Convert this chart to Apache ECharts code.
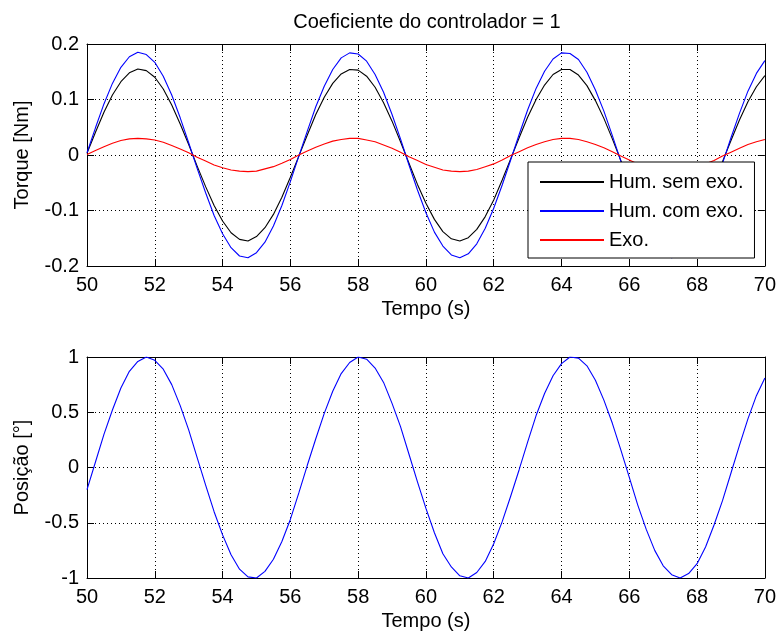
<!DOCTYPE html>
<html>
<head>
<meta charset="utf-8">
<script src="https://cdn.jsdelivr.net/npm/echarts@6/dist/echarts.min.js"></script>
<style>
html,body{margin:0;padding:0;background:#fff;}
#chart{width:779px;height:633px;}
</style>
</head>
<body>
<div id="chart"></div>
<script>
var timeS = [50,50.25,50.5,50.75,51,51.25,51.5,51.75,52,52.25,52.5,52.75,53,53.25,53.5,53.75,54,54.25,54.5,54.75,
  55,55.25,55.5,55.75,56,56.25,56.5,56.75,57,57.25,57.5,57.75,58,58.25,58.5,58.75,59,59.25,59.5,59.75,
  60,60.25,60.5,60.75,61,61.25,61.5,61.75,62,62.25,62.5,62.75,63,63.25,63.5,63.75,64,64.25,64.5,64.75,
  65,65.25,65.5,65.75,66,66.25,66.5,66.75,67,67.25,67.5,67.75,68,68.25,68.5,68.75,69,69.25,69.5,69.75,70];

var humSemExo = [0.003,0.041,0.077,0.108,0.132,0.148,0.155,0.152,0.140,0.119,0.090,0.056,0.019,-0.020,-0.057,-0.091,-0.119,-0.140,-0.152,-0.155,
  -0.147,-0.131,-0.107,-0.076,-0.040,-0.002,0.036,0.073,0.104,0.129,0.146,0.154,0.153,0.142,0.122,0.094,0.061,0.024,-0.015,-0.053,
  -0.087,-0.116,-0.138,-0.151,-0.155,-0.149,-0.134,-0.111,-0.081,-0.045,-0.007,0.031,0.068,0.100,0.126,0.145,0.154,0.154,0.144,0.125,
  0.098,0.066,0.029,-0.010,-0.048,-0.083,-0.113,-0.135,-0.150,-0.155,-0.150,-0.137,-0.114,-0.085,-0.050,-0.012,0.026,0.063,0.096,0.123,0.143];

var humComExo = [0.004,0.049,0.092,0.129,0.158,0.177,0.185,0.181,0.167,0.142,0.108,0.067,0.022,-0.024,-0.068,-0.109,-0.142,-0.167,-0.182,-0.185,
  -0.176,-0.157,-0.128,-0.091,-0.048,-0.002,0.043,0.087,0.124,0.154,0.175,0.184,0.182,0.169,0.145,0.113,0.073,0.029,-0.018,-0.063,
  -0.104,-0.139,-0.164,-0.180,-0.185,-0.178,-0.160,-0.132,-0.096,-0.054,-0.009,0.037,0.081,0.120,0.151,0.173,0.184,0.183,0.172,0.149,
  0.117,0.079,0.035,-0.011,-0.057,-0.098,-0.134,-0.161,-0.179,-0.185,-0.180,-0.163,-0.137,-0.101,-0.060,-0.015,0.031,0.075,0.115,0.147,0.170];

var exo = [0.001,0.008,0.015,0.021,0.026,0.029,0.030,0.029,0.027,0.023,0.017,0.011,0.004,-0.004,-0.011,-0.018,-0.023,-0.027,-0.029,-0.030,
  -0.029,-0.025,-0.021,-0.015,-0.008,0.000,0.007,0.014,0.020,0.025,0.028,0.030,0.030,0.027,0.024,0.018,0.012,0.005,-0.003,-0.010,
  -0.017,-0.022,-0.027,-0.029,-0.030,-0.029,-0.026,-0.021,-0.016,-0.009,-0.001,0.006,0.013,0.019,0.024,0.028,0.030,0.030,0.028,0.024,
  0.019,0.013,0.006,-0.002,-0.009,-0.016,-0.022,-0.026,-0.029,-0.030,-0.029,-0.026,-0.022,-0.016,-0.010,-0.002,0.005,0.012,0.019,0.024,0.028];

var posicao = [-0.20,0.05,0.30,0.52,0.72,0.87,0.96,1.00,0.97,0.89,0.75,0.56,0.34,0.09,-0.16,-0.40,-0.61,-0.79,-0.92,-0.99,
  -1.00,-0.94,-0.83,-0.67,-0.47,-0.23,0.02,0.26,0.49,0.69,0.85,0.95,1.00,0.98,0.90,0.77,0.58,0.37,0.12,-0.13,
  -0.37,-0.59,-0.78,-0.90,-0.98,-1.00,-0.95,-0.85,-0.69,-0.49,-0.26,-0.02,0.23,0.47,0.67,0.83,0.94,1.00,0.99,0.92,
  0.79,0.61,0.40,0.16,-0.09,-0.34,-0.56,-0.75,-0.89,-0.97,-1.00,-0.96,-0.87,-0.72,-0.52,-0.30,-0.05,0.20,0.44,0.65,0.81];

var seriesNames = ['Hum. sem exo.', 'Hum. com exo.', 'Exo.'];
var titleText = 'Coeficiente do controlador = 1';
var xName = 'Tempo (s)';
var yNameTop = 'Torque [Nm]';
var yNameBottom = 'Posição [°]';

function pairs(arr){ return timeS.map(function(t,i){ return [t, arr[i]]; }); }

var FONT = "'Liberation Sans', Arial, sans-serif";
var FS = 20;
var dotted = {show:true, lineStyle:{color:'#000', width:1, type:[1,3]}};
function xAxes(gi){
  return [
    {type:'value', gridIndex:gi, min:50, max:70, interval:2, position:'bottom',
     name:xName, nameLocation:'middle', nameGap:33,
     nameTextStyle:{fontFamily:FONT, fontSize:FS, color:'#000'},
     axisLine:{show:true, onZero:false, lineStyle:{color:'#000', width:1}},
     axisTick:{show:true, inside:true, length:7, lineStyle:{color:'#000'}},
     axisLabel:{show:true, margin:9, fontFamily:FONT, fontSize:FS, color:'#000'},
     splitLine:dotted},
    {type:'value', gridIndex:gi, min:50, max:70, interval:2, position:'top',
     axisLine:{show:true, onZero:false, lineStyle:{color:'#000', width:1}},
     axisTick:{show:true, inside:true, length:7, lineStyle:{color:'#000'}},
     axisLabel:{show:false}, splitLine:{show:false}}
  ];
}
function yAxes(gi, mn, mx, iv, nm){
  return [
    {type:'value', gridIndex:gi, min:mn, max:mx, interval:iv, position:'left',
     name:nm, nameLocation:'middle', nameGap:55,
     nameTextStyle:{fontFamily:FONT, fontSize:FS, color:'#000'},
     axisLine:{show:true, onZero:false, lineStyle:{color:'#000', width:1}},
     axisTick:{show:true, inside:true, length:7, lineStyle:{color:'#000'}},
     axisLabel:{show:true, margin:8, fontFamily:FONT, fontSize:FS, color:'#000'},
     splitLine:dotted},
    {type:'value', gridIndex:gi, min:mn, max:mx, interval:iv, position:'right',
     axisLine:{show:true, onZero:false, lineStyle:{color:'#000', width:1}},
     axisTick:{show:true, inside:true, length:7, lineStyle:{color:'#000'}},
     axisLabel:{show:false}, splitLine:{show:false}}
  ];
}

var chart = echarts.init(document.getElementById('chart'), null, {renderer:'canvas'});
chart.setOption({
  animation:false,
  backgroundColor:'#fff',
  title:{text:titleText, left:427, textAlign:'center', top:12, padding:0,
         textStyle:{fontFamily:FONT, fontSize:FS, fontWeight:'normal', color:'#000'}},
  grid:[
    {left:87, right:11, top:44, height:222},
    {left:87, right:11, top:357, height:221}
  ],
  xAxis: xAxes(0).concat(xAxes(1)),
  yAxis: yAxes(0,-0.2,0.2,0.1,yNameTop).concat(yAxes(1,-1,1,0.5,yNameBottom)),
  legend:{
    data:seriesNames, orient:'vertical', left:528, top:162,
    backgroundColor:'#fff', borderColor:'#000', borderWidth:1, borderRadius:0,
    padding:[10,11,8,11], itemGap:9, itemWidth:64, itemHeight:14,
    itemStyle:{opacity:0},
    textStyle:{fontFamily:FONT, fontSize:FS, color:'#000', width:137}
  },
  series:[
    {name:seriesNames[0], type:'line', xAxisIndex:0, yAxisIndex:0, data:pairs(humSemExo),
     symbol:'none', lineStyle:{color:'#000', width:1.1}, itemStyle:{color:'#000'}},
    {name:seriesNames[1], type:'line', xAxisIndex:0, yAxisIndex:0, data:pairs(humComExo),
     symbol:'none', lineStyle:{color:'#0000ff', width:1.1}, itemStyle:{color:'#0000ff'}},
    {name:seriesNames[2], type:'line', xAxisIndex:0, yAxisIndex:0, data:pairs(exo),
     symbol:'none', lineStyle:{color:'#ff0000', width:1.1}, itemStyle:{color:'#ff0000'}},
    {name:'Posição', type:'line', xAxisIndex:2, yAxisIndex:2, data:pairs(posicao),
     symbol:'none', lineStyle:{color:'#0000ff', width:1.1}, itemStyle:{color:'#0000ff'}}
  ]
});
</script>
</body>
</html>
